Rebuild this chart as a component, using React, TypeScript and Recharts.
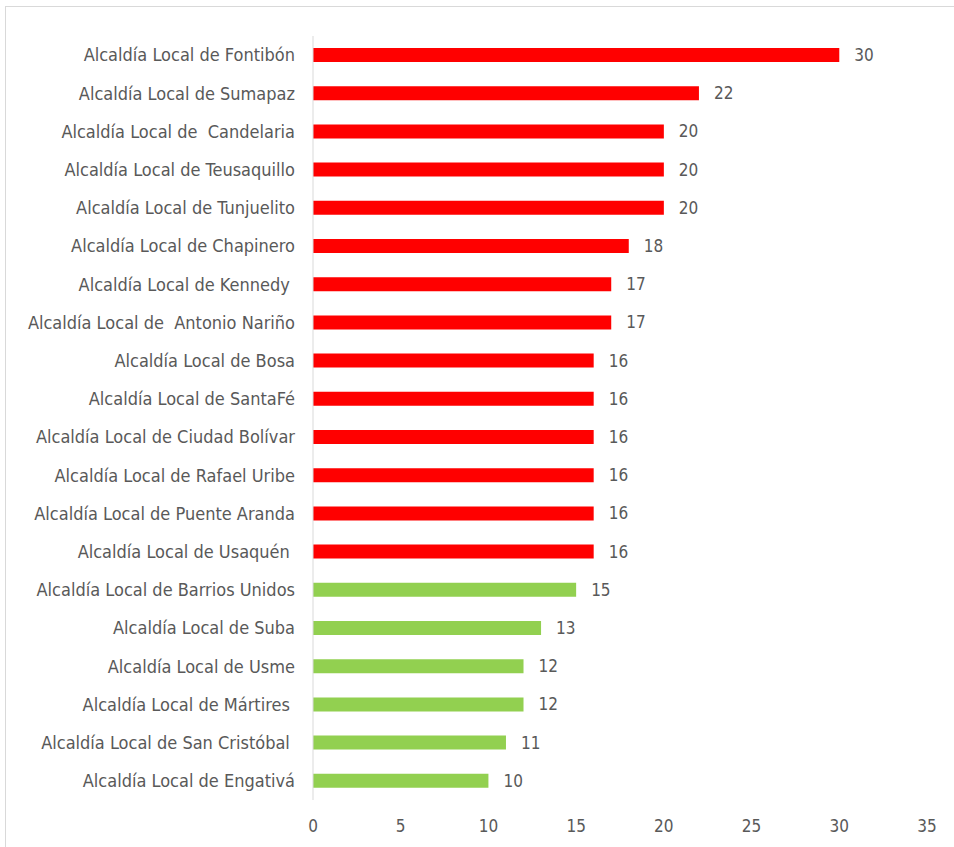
import { BarChart, Bar, XAxis, YAxis, Cell, LabelList } from 'recharts';

const localidades = [
  'Alcaldía Local de Fontibón',
  'Alcaldía Local de Sumapaz',
  'Alcaldía Local de  Candelaria',
  'Alcaldía Local de Teusaquillo',
  'Alcaldía Local de Tunjuelito',
  'Alcaldía Local de Chapinero',
  'Alcaldía Local de Kennedy ',
  'Alcaldía Local de  Antonio Nariño',
  'Alcaldía Local de Bosa',
  'Alcaldía Local de SantaFé',
  'Alcaldía Local de Ciudad Bolívar',
  'Alcaldía Local de Rafael Uribe',
  'Alcaldía Local de Puente Aranda',
  'Alcaldía Local de Usaquén ',
  'Alcaldía Local de Barrios Unidos',
  'Alcaldía Local de Suba',
  'Alcaldía Local de Usme',
  'Alcaldía Local de Mártires ',
  'Alcaldía Local de San Cristóbal ',
  'Alcaldía Local de Engativá',
];

const valores = [30, 22, 20, 20, 20, 18, 17, 17, 16, 16, 16, 16, 16, 16, 15, 13, 12, 12, 11, 10];

const xTicks = [0, 5, 10, 15, 20, 25, 30, 35];

const RED = '#FF0000';
const GREEN = '#92D050';
const FONT = '"DejaVu Sans Condensed", "DejaVu Sans", sans-serif';
const TEXT = '#595959';

const data = localidades.map((name, i) => ({ name, value: valores[i] }));

const CategoryTick = (props: any) => {
  const { x, y, payload } = props;
  return (
    <text
      x={x - 10}
      y={y}
      dy="0.35em"
      textAnchor="end"
      fill={TEXT}
      fontSize={18}
      fontFamily={FONT}
      style={{ whiteSpace: 'pre' }}
    >
      {payload.value}
    </text>
  );
};

const ValueTick = (props: any) => {
  const { x, y, payload } = props;
  return (
    <text x={x} y={y + 24} textAnchor="middle" fill={TEXT} fontSize={17} fontFamily={FONT}>
      {payload.value}
    </text>
  );
};

export default function App() {
  return (
    <div
      style={{
        position: 'absolute',
        left: 0,
        top: 0,
        width: 954,
        height: 847,
        overflow: 'hidden',
        background: '#fff',
      }}
    >
      <div
        style={{
          position: 'absolute',
          left: 5,
          top: 6,
          width: 1000,
          height: 900,
          borderLeft: '1px solid #d9d9d9',
          borderTop: '1px solid #d9d9d9',
        }}
      />
      <div style={{ position: 'absolute', left: 0, top: 0 }}>
        <BarChart
          width={954}
          height={847}
          data={data}
          layout="vertical"
          margin={{ top: 36, right: 27, left: 0, bottom: 0 }}
        >
          <XAxis
            type="number"
            domain={[0, 35]}
            ticks={xTicks}
            height={47}
            axisLine={false}
            tickLine={false}
            tick={<ValueTick />}
            interval={0}
          />
          <YAxis
            type="category"
            dataKey="name"
            width={313}
            axisLine={{ stroke: '#d9d9d9', strokeWidth: 1 }}
            tickLine={false}
            tick={<CategoryTick />}
            interval={0}
          />
          <Bar dataKey="value" barSize={14} isAnimationActive={false}>
            {data.map((d, i) => (
              <Cell key={i} fill={d.value >= 16 ? RED : GREEN} />
            ))}
            <LabelList
              dataKey="value"
              position="right"
              offset={15}
              fill={TEXT}
              fontSize={17}
              fontFamily={FONT}
            />
          </Bar>
        </BarChart>
      </div>
    </div>
  );
}
